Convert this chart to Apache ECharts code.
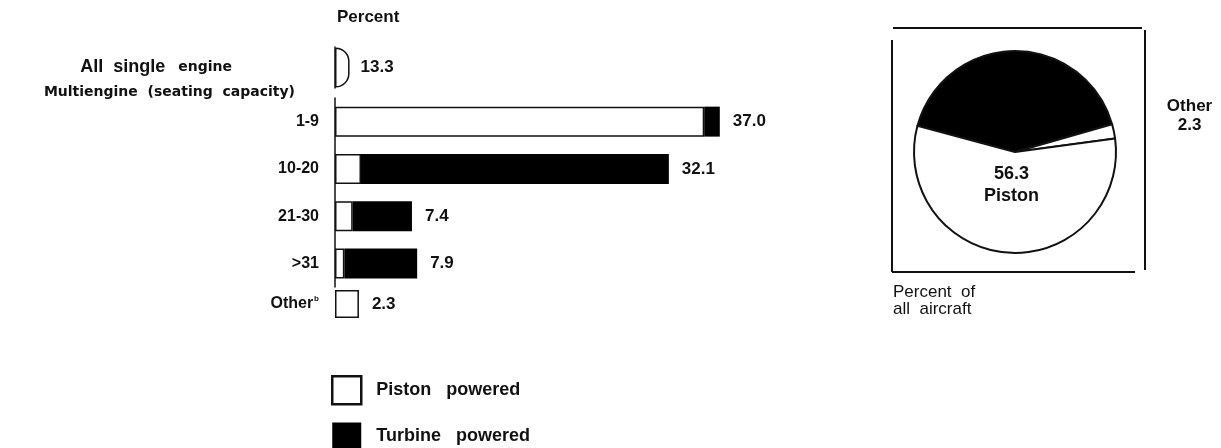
<!DOCTYPE html>
<html>
<head>
<meta charset="utf-8">
<script src="https://cdn.jsdelivr.net/npm/echarts@6/dist/echarts.min.js"></script>
<style>
  html, body { margin: 0; padding: 0; background: #fff; }
  #chart { width: 1221px; height: 448px; }
</style>
</head>
<body>
<div id="chart"></div>
<script>
// bar rows (multiengine by seating capacity)
var seatCats = ['1-9', '10-20', '21-30', '>31', 'Other'];
var pistonPct = [35.5, 2.5, 1.7, 0.9, 2.3];
var turbinePct = [1.5, 29.6, 5.7, 7.0, 0];
var totalLabels = ['37.0', '32.1', '7.4', '7.9', '2.3'];

// single engine row (drawn as a short stub in the source)
var singleCats = ['All single engine'];
var singleStub = [1.4];
var singleLabels = ['13.3'];

// pie: percent of all aircraft
var pieNames = ['Turbine', 'Other', 'Piston'];
var pieValues = [41.4, 2.3, 56.3];

var FONT = '"Liberation Sans", Arial, Helvetica, sans-serif';
var WIDE = '"DejaVu Sans", Verdana, sans-serif';
var chart = echarts.init(document.getElementById('chart'));

// rows 0-3 sit on the axis line, "Other" is set apart below it
var mainCats = seatCats.slice(0, 4), otherCats = seatCats.slice(4);
var labelStyle = { fontFamily: FONT, fontWeight: 'bold', fontSize: 17, color: '#111' };
var catLabel = {
  margin: 16, fontFamily: FONT, fontWeight: 'bold', fontSize: 16, color: '#111',
  formatter: function (v) { return v === 'Other' ? 'Other{sup|b}' : v; },
  rich: { sup: { fontFamily: FONT, fontWeight: 'bold', fontSize: 8, color: '#111', padding: [0, 0, 10, 1] } }
};

function barSeries(offset, cats, axis) {
  var idx = cats.map(function (c) { return seatCats.indexOf(c); });
  return [
    {
      name: 'Piston powered', type: 'bar', stack: 'm' + axis, xAxisIndex: axis, yAxisIndex: axis,
      data: idx.map(function (i) { return pistonPct[i]; }), barWidth: axis === 2 ? 28 : 30,
      itemStyle: { color: '#fff', borderColor: '#111', borderWidth: 1.5 }
    },
    {
      name: 'Turbine powered', type: 'bar', stack: 'm' + axis, xAxisIndex: axis, yAxisIndex: axis,
      data: idx.map(function (i) { return turbinePct[i]; }), barWidth: axis === 2 ? 28 : 30,
      itemStyle: { color: '#000' },
      label: Object.assign({
        show: true, position: 'right', distance: 13,
        formatter: function (p) { return totalLabels[idx[p.dataIndex]]; }
      }, labelStyle)
    }
  ];
}

var option = {
  backgroundColor: '#fff',
  animation: false,
  textStyle: { fontFamily: FONT, color: '#111' },
  grid: [
    { left: 335, top: 47, width: 832, height: 41 },
    { left: 335, top: 98, width: 832, height: 189 },
    { left: 335, top: 290, width: 832, height: 28 }
  ],
  xAxis: [0, 1, 2].map(function (g) {
    return { gridIndex: g, type: 'value', min: 0, max: 80, show: false };
  }),
  yAxis: [
    {
      gridIndex: 0, type: 'category', data: singleCats, inverse: true,
      axisLine: { lineStyle: { color: '#111', width: 1.5 } },
      axisTick: { show: false },
      axisLabel: {
        margin: 103,
        formatter: function () { return '{a|All  single}{b|engine}'; },
        rich: {
          a: { fontFamily: FONT, fontWeight: 'bold', fontSize: 18, color: '#111' },
          b: { fontFamily: WIDE, fontWeight: 'bold', fontSize: 14, color: '#111', padding: [0, 0, 0, 13] }
        }
      }
    },
    {
      gridIndex: 1, type: 'category', data: mainCats, inverse: true,
      axisLine: { lineStyle: { color: '#111', width: 1.5 } },
      axisTick: { show: false },
      axisLabel: catLabel
    },
    {
      gridIndex: 2, type: 'category', data: otherCats, inverse: true,
      axisLine: { show: false },
      axisTick: { show: false },
      axisLabel: catLabel
    }
  ],
  legend: {
    orient: 'vertical', left: 331, top: 375, height: 90, padding: 0,
    itemWidth: 29, itemHeight: 28, itemGap: 17,
    icon: 'rect',
    textStyle: { fontFamily: FONT, fontWeight: 'bold', fontSize: 18, color: '#111', padding: [0, 0, 0, 10] },
    formatter: function (n) { return n.replace(' ', '   '); },
    data: [
      { name: 'Piston powered', itemStyle: { color: '#fff', borderColor: '#111', borderWidth: 2.5 } },
      { name: 'Turbine powered', itemStyle: { color: '#000' } }
    ]
  },
  graphic: [
    { type: 'text', left: 337, top: 9, style: { text: 'Percent', font: 'bold 17px ' + FONT, fill: '#111' } },
    { type: 'text', right: 1221 - 295, top: 85, style: { text: 'Multiengine  (seating  capacity)', font: 'bold 14px ' + WIDE, fill: '#111', textAlign: 'right' } },
    { type: 'line', shape: { x1: 893, y1: 28, x2: 1142, y2: 28 }, style: { stroke: '#111', lineWidth: 2 } },
    { type: 'line', shape: { x1: 892, y1: 40, x2: 892, y2: 272 }, style: { stroke: '#111', lineWidth: 2 } },
    { type: 'line', shape: { x1: 892, y1: 272, x2: 1135, y2: 272 }, style: { stroke: '#111', lineWidth: 2 } },
    { type: 'line', shape: { x1: 1145, y1: 30, x2: 1145, y2: 270 }, style: { stroke: '#111', lineWidth: 2 } },
    { type: 'text', left: 893, top: 284, style: { text: 'Percent  of\nall  aircraft', font: '17px ' + FONT, fill: '#111', lineHeight: 17 } }
  ],
  series: [
    {
      name: 'Piston powered', type: 'bar', xAxisIndex: 0, yAxisIndex: 0,
      data: singleStub, barWidth: 40,
      itemStyle: { color: '#fff', borderColor: '#111', borderWidth: 1.5, borderRadius: [0, 14, 14, 0] },
      label: Object.assign({
        show: true, position: 'right', distance: 11,
        formatter: function (p) { return singleLabels[p.dataIndex]; }
      }, labelStyle)
    }
  ].concat(barSeries(0, mainCats, 1), barSeries(0, otherCats, 2), [
    {
      name: 'Percent of all aircraft', type: 'pie',
      center: [1015, 152], radius: 101,
      startAngle: 165, clockwise: true,
      avoidLabelOverlap: false,
      itemStyle: { borderColor: '#111', borderWidth: 2 },
      label: { show: false },
      labelLine: { show: false, length: 15, length2: 30 },
      labelLayout: function (p) {
        return p.dataIndex === 2 ? { dy: -20 } : { dy: -12 };
      },
      data: pieNames.map(function (n, i) {
        var item = { name: n, value: pieValues[i] };
        if (n === 'Turbine') {
          item.itemStyle = { color: '#000' };
        } else if (n === 'Other') {
          item.itemStyle = { color: '#fff' };
          item.label = {
            show: true, position: 'outside',
            formatter: '{a|Other}\n{a|2.3}',
            rich: { a: { fontFamily: FONT, fontWeight: 'bold', fontSize: 17, color: '#111', width: 52, align: 'center', lineHeight: 19 } }
          };
        } else {
          item.itemStyle = { color: '#fff' };
          item.label = {
            show: true, position: 'inside',
            formatter: '56.3\nPiston',
            fontFamily: FONT, fontWeight: 'bold', fontSize: 18, color: '#111', lineHeight: 22
          };
        }
        return item;
      })
    }
  ])
};

chart.setOption(option);
</script>
</body>
</html>
